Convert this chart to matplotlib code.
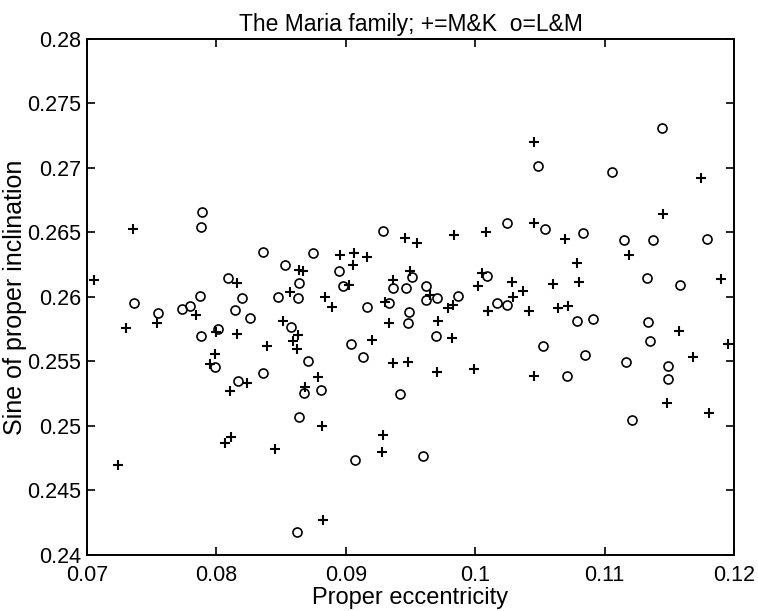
import matplotlib
matplotlib.use("Agg")
import matplotlib.pyplot as plt

plt.rcParams['font.family'] = ['Liberation Sans', 'DejaVu Sans']

# Milani & Knezevic (+)
mk_ecc = [0.07353, 0.07056, 0.08157, 0.08641, 0.08672, 0.08569, 0.07301, 0.07543, 0.0784, 0.07997,
          0.08157, 0.07989, 0.0795, 0.08239, 0.08105, 0.08389, 0.08512, 0.08633, 0.0859, 0.0862,
          0.08788, 0.08839, 0.08891, 0.0930, 0.09336, 0.0920, 0.09367, 0.09483, 0.09792, 0.09826,
          0.0971, 0.09823, 0.10097, 0.09702, 0.09991, 0.08685, 0.08814, 0.0929, 0.09282, 0.08821,
          0.08955, 0.09066, 0.09161, 0.09058, 0.09027, 0.09457, 0.09548, 0.09496, 0.09367, 0.09839,
          0.10083, 0.09651, 0.1002, 0.1005, 0.10287, 0.1010, 0.10294, 0.10454, 0.10694, 0.10784,
          0.10805, 0.10599, 0.10372, 0.10457, 0.11745, 0.11454, 0.11189, 0.11899, 0.10416, 0.10642,
          0.10719, 0.11577, 0.11951, 0.11685, 0.10454, 0.11479, 0.11809, 0.07242, 0.08067, 0.0811,
          0.08453]
mk_sin = [0.26527, 0.26132, 0.26106, 0.26209, 0.26204, 0.26036, 0.25762, 0.25796, 0.2586, 0.25726,
          0.2571, 0.25558, 0.2548, 0.25331, 0.25271, 0.25622, 0.25816, 0.25705, 0.25661, 0.25595,
          0.25378, 0.26002, 0.2592, 0.25959, 0.2580, 0.25667, 0.25486, 0.25498, 0.25912, 0.25938,
          0.25816, 0.25685, 0.25891, 0.2542, 0.25442, 0.25305, 0.25002, 0.2493, 0.24801, 0.24271,
          0.26326, 0.26339, 0.26308, 0.26248, 0.26093, 0.2646, 0.26416, 0.26204, 0.26132, 0.26481,
          0.26502, 0.26016, 0.26088, 0.26184, 0.26114, 0.25894, 0.26002, 0.26576, 0.26447, 0.26261,
          0.26119, 0.26101, 0.26049, 0.27199, 0.26925, 0.26643, 0.26326, 0.26137, 0.25891, 0.25912,
          0.25933, 0.25739, 0.25636, 0.25537, 0.2539, 0.25181, 0.25103, 0.24698, 0.24866, 0.24917,
          0.24819]

# Lemaitre & Morbidelli (o)
lm_ecc = [0.07886, 0.0788, 0.08358, 0.08533, 0.08092, 0.0864, 0.08633, 0.07876, 0.08474, 0.08195,
          0.07366, 0.07546, 0.07732, 0.07796, 0.08144, 0.07881, 0.08015, 0.08257, 0.07989, 0.08165,
          0.08358, 0.08574, 0.08706, 0.09161, 0.09336, 0.09491, 0.09483, 0.09038, 0.09135, 0.09695,
          0.08679, 0.08808, 0.08638, 0.09421, 0.09071, 0.09599, 0.0862, 0.08744, 0.08945, 0.08981,
          0.09284, 0.09514, 0.09362, 0.09463, 0.0962, 0.0962, 0.09702, 0.0987, 0.10089, 0.10166,
          0.10248, 0.10246, 0.10539, 0.10835, 0.11441, 0.10483, 0.11055, 0.11152, 0.11371, 0.11794,
          0.11329, 0.11583, 0.10784, 0.10907, 0.11332, 0.10522, 0.10848, 0.11351, 0.11163, 0.11487,
          0.11492, 0.10707, 0.11209]
lm_sin = [0.26657, 0.2654, 0.26349, 0.26248, 0.26145, 0.2611, 0.2599, 0.26008, 0.26003, 0.2599,
          0.2595, 0.25873, 0.25907, 0.25933, 0.2590, 0.2570, 0.25752, 0.25835, 0.2546, 0.25351,
          0.25409, 0.25765, 0.2550, 0.25925, 0.2595, 0.25886, 0.25796, 0.25633, 0.25537, 0.25698,
          0.25253, 0.25279, 0.25072, 0.25246, 0.24736, 0.24767, 0.2418, 0.26339, 0.26204, 0.26085,
          0.26512, 0.26153, 0.26072, 0.26067, 0.26088, 0.25977, 0.2599, 0.2601, 0.26166, 0.25951,
          0.25938, 0.26571, 0.26525, 0.26494, 0.27308, 0.27016, 0.26967, 0.26442, 0.26442, 0.2645,
          0.26145, 0.26093, 0.25814, 0.25827, 0.25809, 0.25622, 0.2555, 0.25659, 0.25498, 0.25465,
          0.25364, 0.2539, 0.25047]

xticks = [0.07, 0.08, 0.09, 0.1, 0.11, 0.12]
xticklabels = ['0.07', '0.08', '0.09', '0.1', '0.11', '0.12']
yticks = [0.24, 0.245, 0.25, 0.255, 0.26, 0.265, 0.27, 0.275, 0.28]
yticklabels = ['0.24', '0.245', '0.25', '0.255', '0.26', '0.265', '0.27', '0.275', '0.28']

fig = plt.figure(figsize=(7.58, 6.11), dpi=100)
ax = fig.add_axes([0.1148, 0.0917, 0.8535, 0.8445])

ax.plot(mk_ecc, mk_sin, '+', color='k', ms=6.5, mew=1.5)
ax.plot(lm_ecc, lm_sin, 'o', mfc='none', mec='k', ms=6.5, mew=1.2)

ax.set_xlim(0.07, 0.12)
ax.set_ylim(0.24, 0.28)
ax.set_xticks(xticks)
ax.set_xticklabels(xticklabels)
ax.set_yticks(yticks)
ax.set_yticklabels(yticklabels)
ax.tick_params(direction='in', length=6, width=1.2, top=True, right=True,
               labelsize=15.5, pad=4)
ax.tick_params(axis='x', pad=7)
for s in ax.spines.values():
    s.set_linewidth(1.4)

ax.set_xlabel('Proper eccentricity', fontsize=17, labelpad=1)
ax.set_ylabel('Sine of proper inclination', fontsize=18, labelpad=0)
ax.set_title('The Maria family; +=M&K  o=L&M', fontsize=16.5, pad=6)

fig.savefig('out.png', dpi=100)
